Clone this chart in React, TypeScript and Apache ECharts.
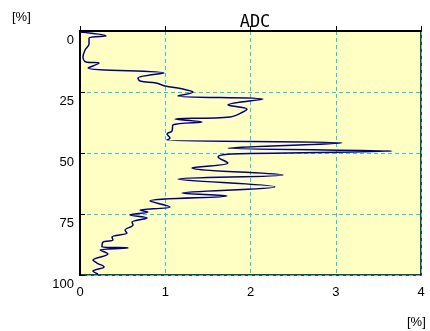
import React, { useEffect, useRef } from "react";
import * as echarts from "echarts";

const depthValues: number[] = [
  0.4, 2.0, 2.9, 5.3, 7.8, 10.7, 12.7, 13.1, 15.2, 17.2, 19.3, 20.5, 21.3, 22.5,
  23.8, 25.0, 26.6, 27.9, 30.3, 32.0, 33.2, 35.2, 36.1, 37.3, 38.5, 41.0, 42.2,
  43.9, 44.7, 45.9, 48.0, 49.2, 50.4, 51.6, 54.1, 56.1, 59.0, 60.7, 63.9, 66.4,
  67.6, 69.7, 72.1, 73.4, 74.2, 75.4, 76.6, 78.3, 79.5, 81.6, 82.8, 84.4, 85.7,
  86.5, 88.5, 88.9, 89.8, 91.4, 93.9, 95.1, 96.7, 98.4, 99.6,
];
const adcValues: number[] = [
  0.0, 0.305, 0.106, 0.106, 0.059, 0.035, 0.07, 0.223, 0.094, 0.985, 0.68,
  0.704, 0.891, 0.997, 1.208, 1.326, 1.15, 2.147, 1.736, 1.959, 1.912, 1.76,
  1.114, 1.431, 1.091, 1.079, 1.021, 1.056, 1.021, 3.073, 1.736, 3.66, 1.783,
  1.619, 1.736, 1.314, 2.381, 1.15, 2.287, 1.196, 1.724, 0.821, 1.056, 0.704,
  0.798, 0.587, 0.786, 0.61, 0.622, 0.528, 0.551, 0.375, 0.387, 0.27, 0.258,
  0.563, 0.235, 0.328, 0.152, 0.199, 0.282, 0.152, 0.211,
];
const xTicks: number[] = [0, 1, 2, 3, 4];
const yTicks: number[] = [0, 25, 50, 75, 100];
const titleText = "ADC";
const unitText = "[%]";

export default function App() {
  const ref = useRef<HTMLDivElement>(null);
  useEffect(() => {
    if (!ref.current) return;
    const chart = echarts.init(ref.current, undefined, { renderer: "svg" });
    const labelFont = "Arial, 'Liberation Sans', sans-serif";
    chart.setOption({
      animation: false,
      title: {
        text: titleText,
        left: 250,
        top: 7,
        textAlign: "center",
        textStyle: {
          fontFamily: "'DejaVu Sans Mono', monospace",
          fontSize: 17,
          fontWeight: "normal",
          color: "#000",
        },
      },
      graphic: [
        {
          type: "text",
          left: 12,
          top: 10,
          style: { text: unitText, fontSize: 13, fontFamily: labelFont, fill: "#000" },
        },
        {
          type: "text",
          left: 407,
          top: 315,
          style: { text: unitText, fontSize: 13, fontFamily: labelFont, fill: "#000" },
        },
      ],
      grid: {
        left: 80,
        top: 31,
        width: 341,
        height: 244,
        show: true,
        backgroundColor: "#FFFFC4",
        borderColor: "#000",
        borderWidth: 1.5,
      },
      xAxis: {
        type: "value",
        min: xTicks[0],
        max: xTicks[xTicks.length - 1],
        interval: 1,
        axisLine: { show: true, lineStyle: { color: "#000", width: 2 } },
        axisTick: { show: true, inside: true, length: 5, lineStyle: { color: "#000" } },
        axisLabel: {
          margin: 10,
          fontSize: 13,
          fontFamily: labelFont,
          color: "#000",
          formatter: (v: number) => String(v),
        },
        splitLine: {
          show: true,
          lineStyle: { color: "#22CCEE", width: 1, type: [4, 3] },
        },
      },
      yAxis: {
        type: "value",
        inverse: true,
        min: yTicks[0],
        max: yTicks[yTicks.length - 1],
        interval: 25,
        axisLine: { show: true, lineStyle: { color: "#000", width: 2 } },
        axisTick: { show: true, inside: true, length: 5, lineStyle: { color: "#000" } },
        axisLabel: {
          margin: 6,
          fontSize: 13,
          fontFamily: labelFont,
          color: "#000",
          verticalAlign: "top",
          padding: [2, 0, 0, 0],
        },
        splitLine: {
          show: true,
          lineStyle: { color: "#22CCEE", width: 1, type: [4, 3] },
        },
      },
      series: [
        {
          type: "line",
          data: adcValues.map((v, i) => [v, depthValues[i]]),
          showSymbol: false,
          smooth: 0.35,
          lineStyle: { color: "#000080", width: 1.5 },
        },
      ],
    });
    return () => chart.dispose();
  }, []);
  return (
    <div
      ref={ref}
      style={{ position: "fixed", left: 0, top: 0, width: 430, height: 331 }}
    />
  );
}
